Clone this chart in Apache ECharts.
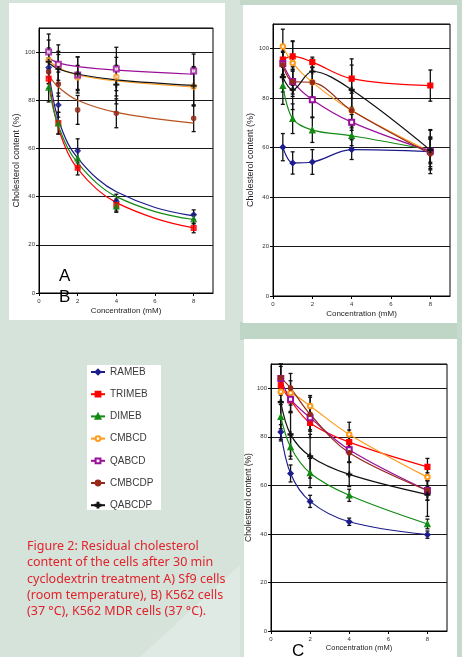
<!DOCTYPE html>
<html><head><meta charset="utf-8">
<script src="https://cdn.jsdelivr.net/npm/echarts@6/dist/echarts.min.js"></script>
<style>html,body{margin:0;padding:0;background:#d5e3da;}#c{width:462px;height:657px;}</style>
</head><body><div id="c"></div>
<script>
// ---------- data ----------
const conc = [0.5, 1, 2, 4, 8];
const concFitSteep = [0.5, 0.75, 1, 1.5, 2, 3, 4, 6, 8];
const xTicks = [0, 2, 4, 6, 8];
const yTicks = [0, 20, 40, 60, 80, 100];
const names = ['RAMEB', 'TRIMEB', 'DIMEB', 'CMBCD', 'QABCD', 'CMBCDP', 'QABCDP'];

// Panel A (Sf9) measured points
const A_RAMEB  = [93.6, 78, 59, 38, 32.5];
const A_TRIMEB = [89, 70.5, 52, 36.5, 27];
const A_DIMEB  = [85.3, 70.5, 56, 36, 30.7];
const A_CMBCD  = [96.7, 94.3, 89.5, 89.8, 85.6];
const A_QABCD  = [100, 95, 90.5, 93, 92.2];
const A_CMBCDP = [91.8, 86.7, 76, 74.6, 72.5];
const A_QABCDP = [96, 93, 91, 86.5, 86];
// Panel A error (+/-)
const A_RAMEB_err  = [4, 5, 5, 3, 2];
const A_TRIMEB_err = [4, 4.5, 3, 2.5, 2];
const A_DIMEB_err  = [6, 4.5, 4, 2.5, 2];
const A_CMBCD_err  = [5, 6, 5, 8, 8];
const A_QABCD_err  = [7.5, 8, 7.5, 9, 7];
const A_CMBCDP_err = [5, 5, 6, 6, 5.5];
const A_QABCDP_err = [9, 6, 7, 8, 8];
// Panel A trend lines
const A_RAMEB_fit  = [92, 80, 72, 62, 56, 47.5, 42, 35.5, 32];
const A_TRIMEB_fit = [89, 77, 68.5, 58, 51.5, 43, 37.5, 31, 27];
const A_DIMEB_fit  = [87, 76, 69.5, 60, 54, 45.5, 40, 33.8, 30.5];
const A_CMBCD_fit  = [96.5, 93.5, 90.5, 88, 85.5];
const A_QABCD_fit  = [97.5, 95.5, 94, 92.5, 90.8];
const A_CMBCDP_fit = [90.5, 85.5, 80, 75, 70.5];
const A_QABCDP_fit = [95.5, 93, 90.8, 88.5, 86.2];

// Panel B (K562)
const B_RAMEB  = [60.2, 53.8, 54.2, 59.2, 58.4];
const B_TRIMEB = [95.6, 96.9, 94.6, 87.9, 85.1];
const B_DIMEB  = [85, 71.7, 67.1, 64.8, 59.1];
const B_CMBCD  = [100.9, 94.2, 86.4, 75, 58.3];
const B_QABCD  = [94, 86.7, 79.4, 70.3, 58.5];
const B_CMBCDP = [93.5, 86.7, 86.4, 75, 57.5];
const B_QABCDP = [88.5, 83.4, 90.8, 83.4, 59];
const B_RAMEB_err  = [5.5, 4.5, 5, 4, 8.9];
const B_TRIMEB_err = [6, 6, 2, 8, 6.3];
const B_DIMEB_err  = [7.5, 6, 5, 4, 5];
const B_CMBCD_err  = [7, 9, 6, 8, 6];
const B_QABCD_err  = [5, 6, 7, 6, 5];
const B_CMBCDP_err = [5, 5, 6, 7, 6];
const B_QABCDP_err = [6, 8, 5, 10, 8];

// Panel C (K562 MDR)
const C_RAMEB  = [82, 64.9, 53.4, 45, 39.7];
const C_TRIMEB = [101.2, 95, 85.7, 77.8, 67.6];
const C_DIMEB  = [88.3, 75.8, 65.1, 55.9, 44.1];
const C_CMBCD  = [98.6, 98.1, 92.7, 81, 63.4];
const C_QABCD  = [104, 95.5, 87.9, 74.7, 57.9];
const C_CMBCDP = [104.4, 100.1, 89.3, 73.4, 57.9];
const C_QABCDP = [94.3, 81, 72, 64.5, 56.2];
const C_RAMEB_err  = [3, 3.5, 2.5, 1.5, 1.5];
const C_TRIMEB_err = [4, 5, 6, 5, 3.5];
const C_DIMEB_err  = [5, 5, 6, 2.5, 2];
const C_CMBCD_err  = [4, 5, 4.3, 5, 4];
const C_QABCD_err  = [5, 5, 5, 5, 4];
const C_CMBCDP_err = [6, 6, 7, 4, 4];
const C_QABCDP_err = [16, 9, 9, 5, 9];

const colors  = ['#1c1c8c', '#ff0000', '#138a13', '#ff9a1a', '#9a0f9a', '#962a1a', '#111111'];
const symbols = ['diamond', 'rect', 'triangle', 'emptyCircle', 'emptyRect', 'circle',
                 'path://M4,0H6V4H10V6H6V10H4V6H0V4H4Z'];
const symSizes = [5.5, 5, 5.5, 4.5, 5, 4.5, 5];

const panelA = [A_RAMEB, A_TRIMEB, A_DIMEB, A_CMBCD, A_QABCD, A_CMBCDP, A_QABCDP];
const panelAerr = [A_RAMEB_err, A_TRIMEB_err, A_DIMEB_err, A_CMBCD_err, A_QABCD_err, A_CMBCDP_err, A_QABCDP_err];
const panelAfit = [A_RAMEB_fit, A_TRIMEB_fit, A_DIMEB_fit, A_CMBCD_fit, A_QABCD_fit, A_CMBCDP_fit, A_QABCDP_fit];
const panelB = [B_RAMEB, B_TRIMEB, B_DIMEB, B_CMBCD, B_QABCD, B_CMBCDP, B_QABCDP];
const panelBerr = [B_RAMEB_err, B_TRIMEB_err, B_DIMEB_err, B_CMBCD_err, B_QABCD_err, B_CMBCDP_err, B_QABCDP_err];
const panelC = [C_RAMEB, C_TRIMEB, C_DIMEB, C_CMBCD, C_QABCD, C_CMBCDP, C_QABCDP];
const panelCerr = [C_RAMEB_err, C_TRIMEB_err, C_DIMEB_err, C_CMBCD_err, C_QABCD_err, C_CMBCDP_err, C_QABCDP_err];

// ---------- chart ----------
const FONT = 'Liberation Sans, Arial, sans-serif';
const chart = echarts.init(document.getElementById('c'), null, {renderer: 'canvas'});

function xAx(gi, gap, fs) {
  return {gridIndex: gi, type: 'value', min: 0, max: 9, interval: 2,
    name: 'Concentration (mM)', nameLocation: 'middle', nameGap: gap,
    nameTextStyle: {fontFamily: FONT, fontSize: fs, color: '#222'},
    axisLine: {show: true, lineStyle: {color: '#000', width: 1}},
    axisTick: {show: true, length: 3, lineStyle: {color: '#000'}},
    axisLabel: {fontFamily: FONT, fontSize: 6, color: '#333', margin: 5, showMaxLabel: false},
    splitLine: {show: false}};
}
function yAx(gi, gap, fs) {
  return {gridIndex: gi, type: 'value', min: 0, max: 110, interval: 20,
    name: 'Cholesterol content (%)', nameLocation: 'middle', nameGap: gap,
    nameTextStyle: {fontFamily: FONT, fontSize: fs, color: '#222'},
    axisLine: {show: true, lineStyle: {color: '#000', width: 1}},
    axisTick: {show: true, length: 3, lineStyle: {color: '#000'}},
    axisLabel: {fontFamily: FONT, fontSize: 6, color: '#333', margin: 4, showMaxLabel: false},
    splitLine: {show: true, lineStyle: {color: '#1a1a1a', width: 1.1}}};
}

function errSeries(gi, vals, errs) {
  const data = [];
  vals.forEach((arr, k) => arr.forEach((v, i) => data.push([conc[i], v, errs[k][i]])));
  return {type: 'custom', xAxisIndex: gi, yAxisIndex: gi, z: 1, silent: true,
    data: data,
    renderItem: function (params, api) {
      const x = api.value(0), y = api.value(1), e = api.value(2);
      const t = api.coord([x, Math.min(y + e, 110)]);
      const b = api.coord([x, y - e]);
      const st = {stroke: '#111', lineWidth: 1.3};
      return {type: 'group', children: [
        {type: 'line', shape: {x1: t[0], y1: t[1], x2: b[0], y2: b[1]}, style: st},
        {type: 'line', shape: {x1: t[0] - 2, y1: t[1], x2: t[0] + 2, y2: t[1]}, style: st},
        {type: 'line', shape: {x1: b[0] - 2, y1: b[1], x2: b[0] + 2, y2: b[1]}, style: st}
      ]};
    }};
}

const series = [];
// Panel B first so legend icons show line + marker
names.forEach((n, k) => {
  series.push({name: n, type: 'line', xAxisIndex: 1, yAxisIndex: 1, z: 3,
    data: conc.map((c, i) => [c, panelB[k][i]]), smooth: 0.35,
    symbol: symbols[k], symbolSize: symSizes[k],
    lineStyle: {color: colors[k], width: 1.2}, itemStyle: {color: colors[k], borderColor: colors[k], borderWidth: 1.1}});
});
names.forEach((n, k) => {
  series.push({name: n, type: 'line', xAxisIndex: 2, yAxisIndex: 2, z: 3,
    data: conc.map((c, i) => [c, panelC[k][i]]), smooth: 0.35,
    symbol: symbols[k], symbolSize: symSizes[k],
    lineStyle: {color: colors[k], width: 1.2}, itemStyle: {color: colors[k], borderColor: colors[k], borderWidth: 1.1}});
});
names.forEach((n, k) => {
  const xs = panelAfit[k].length === concFitSteep.length ? concFitSteep : conc;
  series.push({name: n, type: 'line', xAxisIndex: 0, yAxisIndex: 0, z: 3,
    data: xs.map((c, i) => [c, panelAfit[k][i]]), smooth: 0.4, showSymbol: false, symbol: 'none',
    lineStyle: {color: k === 5 ? '#b8501e' : colors[k], width: 1.2}});
  series.push({name: n, type: 'scatter', xAxisIndex: 0, yAxisIndex: 0, z: 4,
    data: conc.map((c, i) => [c, panelA[k][i]]),
    symbol: symbols[k], symbolSize: symSizes[k],
    itemStyle: {color: colors[k], borderColor: colors[k], borderWidth: 1.1}});
});
series.push(errSeries(0, panelA, panelAerr));
series.push(errSeries(1, panelB, panelBerr));
series.push(errSeries(2, panelC, panelCerr));

const caption = 'Figure 2: Residual cholesterol\ncontent of the cells after 30 min\ncyclodextrin treatment A) Sf9 cells\n(room temperature), B) K562 cells\n(37 °C), K562 MDR cells (37 °C).';

chart.setOption({
  animation: false,
  backgroundColor: '#d5e3da',
  grid: [
    {left: 39, top: 28, width: 174, height: 265, show: true, borderColor: '#000', borderWidth: 1},
    {left: 273, top: 24, width: 177, height: 272, show: true, borderColor: '#000', borderWidth: 1},
    {left: 271, top: 364, width: 176, height: 267, show: true, borderColor: '#000', borderWidth: 1}
  ],
  xAxis: [xAx(0, 14, 8), xAx(1, 14, 8), xAx(2, 13, 7.5)],
  yAxis: [yAx(0, 16, 9), yAx(1, 17, 9), yAx(2, 15, 8.5)],
  legend: {orient: 'vertical', left: 90, top: 366, padding: 0, itemWidth: 14, itemHeight: 6, itemGap: 10.2,
    data: names, selectedMode: false,
    textStyle: {fontFamily: FONT, fontSize: 10, lineHeight: 12, color: '#3a3a3a'}},
  graphic: [
    {type: 'polygon', z: -20, shape: {points: [[140, 657], [240, 565], [240, 657]]}, style: {fill: '#e0eae4'}},
    {type: 'rect', z: -20, shape: {x: 240, y: 322, width: 222, height: 18}, style: {fill: '#bfd5c5'}},
    {type: 'rect', z: -20, shape: {x: 240, y: 0, width: 222, height: 5}, style: {fill: '#c3d8c9'}},
    {type: 'rect', z: -20, shape: {x: 457, y: 0, width: 5, height: 657}, style: {fill: '#c6dacb'}},
    {type: 'rect', z: -10, shape: {x: 9, y: 3, width: 216, height: 317}, style: {fill: '#ffffff'}},
    {type: 'rect', z: -10, shape: {x: 243, y: 5, width: 214, height: 318}, style: {fill: '#ffffff'}},
    {type: 'rect', z: -10, shape: {x: 244, y: 339, width: 213, height: 318}, style: {fill: '#ffffff'}},
    {type: 'rect', z: -10, shape: {x: 87, y: 365, width: 74, height: 145}, style: {fill: '#ffffff'}},
    {type: 'text', z: 10, left: 59, top: 268, style: {text: 'A', font: '17px Liberation Sans', fill: '#000'}},
    {type: 'text', z: 10, left: 59, top: 289, style: {text: 'B', font: '17px Liberation Sans', fill: '#000'}},
    {type: 'text', z: 10, left: 292, top: 643, style: {text: 'C', font: '17px Liberation Sans', fill: '#000'}},
    {type: 'text', z: 10, left: 27, top: 538, style: {text: caption, font: '12.5px Noto Sans', lineHeight: 16.4, fill: '#e2222b'}}
  ],
  series: series
});
</script></body></html>
